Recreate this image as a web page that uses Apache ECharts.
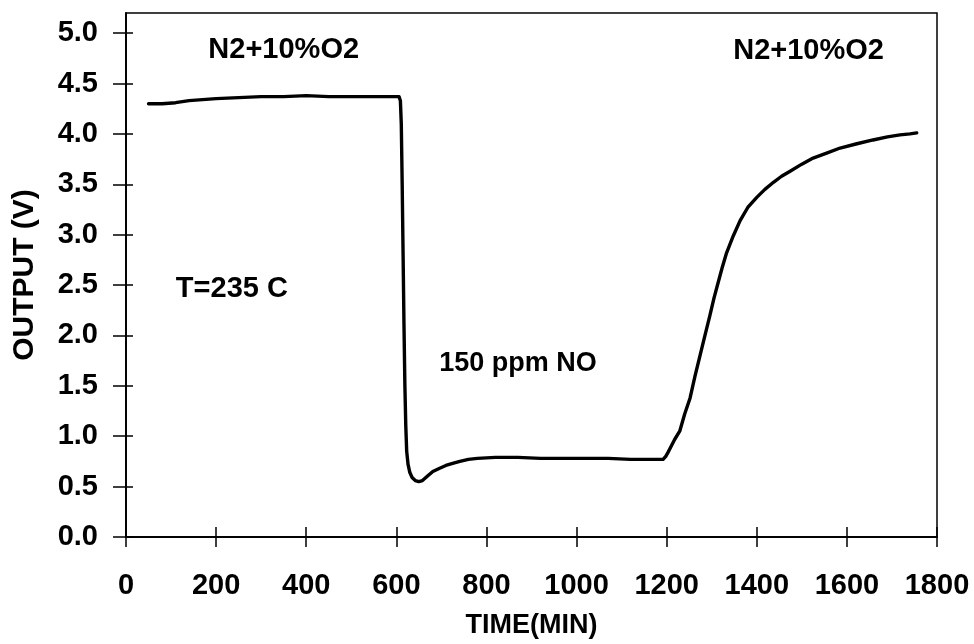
<!DOCTYPE html>
<html>
<head>
<meta charset="utf-8">
<script src="https://cdn.jsdelivr.net/npm/echarts@6/dist/echarts.min.js"></script>
<style>
html,body{margin:0;padding:0;background:#fff;}
#c{width:974px;height:644px;}
</style>
</head>
<body>
<div id="c"></div>
<script>
// ---- data ----
const timeMin = [50, 80, 110, 140, 170, 200, 250, 300, 350, 400, 450, 500, 550, 600, 606,
  609, 611, 613, 615, 617, 619, 621, 623, 626, 630, 635, 642, 650, 658, 668, 681, 695,
  710, 725, 741, 760, 780, 820, 870, 920, 970, 1020, 1070, 1120, 1160, 1185, 1192,
  1198, 1203, 1210, 1218, 1229, 1240, 1252, 1263, 1274, 1285, 1296, 1305, 1314, 1323,
  1333, 1348, 1363, 1380, 1400, 1418, 1437, 1455, 1474, 1500, 1525, 1555, 1585, 1620,
  1658, 1690, 1718, 1740, 1755];
const outputV = [4.30, 4.30, 4.31, 4.33, 4.34, 4.35, 4.36, 4.37, 4.37, 4.38, 4.37, 4.37, 4.37, 4.37, 4.37,
  4.33, 4.10, 3.50, 2.80, 2.10, 1.50, 1.10, 0.85, 0.72, 0.64, 0.59, 0.56, 0.55, 0.56, 0.60, 0.65, 0.68,
  0.71, 0.73, 0.75, 0.77, 0.78, 0.79, 0.79, 0.78, 0.78, 0.78, 0.78, 0.77, 0.77, 0.77, 0.77,
  0.80, 0.84, 0.90, 0.97, 1.05, 1.22, 1.38, 1.60, 1.80, 2.00, 2.20, 2.37, 2.52, 2.67,
  2.82, 2.99, 3.14, 3.27, 3.37, 3.45, 3.52, 3.58, 3.63, 3.70, 3.76, 3.81, 3.86, 3.90,
  3.94, 3.97, 3.99, 4.00, 4.01];
const xTicks = [0, 200, 400, 600, 800, 1000, 1200, 1400, 1600, 1800];
const yTicks = [0, 0.5, 1.0, 1.5, 2.0, 2.5, 3.0, 3.5, 4.0, 4.5, 5.0];
const annotationTexts = ['N2+10%O2', 'N2+10%O2', 'T=235 C', '150 ppm NO'];
const annotationAnchors = [[350, 4.83], [1515, 4.82], [235, 2.46], [870, 1.72]];
const annotationSizes = [29, 29, 29, 27];

const FONT = '"Liberation Sans", Arial, sans-serif';
const chart = echarts.init(document.getElementById('c'), null, {renderer: 'canvas'});

const baseX = {
  type: 'value', min: 0, max: 1800, position: 'bottom',
  axisLine: {show: true, onZero: false, lineStyle: {color: '#000', width: 1.5}},
  splitLine: {show: false}
};
const baseY = {
  type: 'value', min: 0, max: 5.2, position: 'left',
  axisLine: {show: true, onZero: false, lineStyle: {color: '#000', width: 1.5}},
  splitLine: {show: false}
};

chart.setOption({
  animation: false,
  backgroundColor: '#fff',
  grid: {left: 126, right: 37, top: 13, bottom: 100, show: true, borderColor: '#000', borderWidth: 1.5, containLabel: false},
  xAxis: [
    Object.assign({}, baseX, {
      name: 'TIME(MIN)', nameLocation: 'middle', nameGap: 75,
      nameTextStyle: {fontFamily: FONT, fontWeight: 'bold', fontSize: 27, color: '#000'},
      axisTick: {show: true, inside: false, length: 10, customValues: xTicks, lineStyle: {color: '#000', width: 1.5}},
      axisLabel: {show: true, customValues: xTicks, margin: 34, fontFamily: FONT, fontWeight: 'bold', fontSize: 29, color: '#000',
        formatter: v => String(v)}
    }),
    Object.assign({}, baseX, {
      axisTick: {show: true, inside: true, length: 10, customValues: xTicks, lineStyle: {color: '#000', width: 1.5}},
      axisLabel: {show: false}
    })
  ],
  yAxis: [
    Object.assign({}, baseY, {
      name: 'OUTPUT (V)', nameLocation: 'middle', nameGap: 86, nameRotate: 90,
      nameTextStyle: {fontFamily: FONT, fontWeight: 'bold', fontSize: 30, color: '#000'},
      axisTick: {show: true, inside: false, length: 13, customValues: yTicks, lineStyle: {color: '#000', width: 1.5}},
      axisLabel: {show: true, customValues: yTicks, margin: 28, fontFamily: FONT, fontWeight: 'bold', fontSize: 29, color: '#000',
        formatter: v => v.toFixed(1)}
    }),
    Object.assign({}, baseY, {
      axisTick: {show: true, inside: true, length: 7, customValues: yTicks, lineStyle: {color: '#000', width: 1.5}},
      axisLabel: {show: false}
    })
  ],
  series: [
    {
      type: 'line', xAxisIndex: 0, yAxisIndex: 0,
      data: timeMin.map((t, i) => [t, outputV[i]]),
      showSymbol: false, smooth: false,
      lineStyle: {color: '#000', width: 3.4, join: 'round', cap: 'round'},
      z: 5
    },
    {
      type: 'scatter', xAxisIndex: 0, yAxisIndex: 0,
      data: annotationAnchors.map((p, i) => ({value: p, name: annotationTexts[i],
        label: {fontSize: annotationSizes[i]}})),
      symbolSize: 0, silent: true, itemStyle: {opacity: 1},
      label: {show: true, position: 'inside', formatter: p => p.name,
        fontFamily: FONT, fontWeight: 'bold', fontSize: 29, color: '#000', opacity: 1}
    }
  ]
});
</script>
</body>
</html>
